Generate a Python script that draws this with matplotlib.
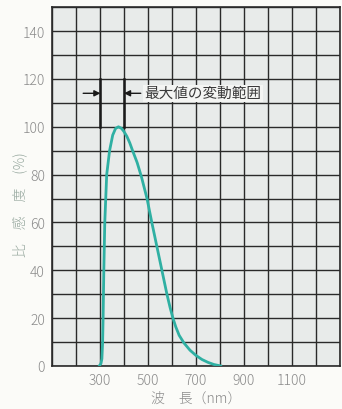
import numpy as np
import matplotlib
matplotlib.use('Agg')
import matplotlib.pyplot as plt

plt.rcParams['font.family'] = ['Noto Sans CJK JP', 'DejaVu Sans']

# 分光感度曲線
wavelength = [297, 304, 308, 311, 313, 316, 320, 328, 340, 353, 365, 377,
              390, 400, 412, 424, 436, 455, 473, 496, 516, 537, 558, 579,
              592, 604, 616, 630, 650, 675, 700, 725, 750, 775, 803]
sensitivity = [0, 1, 3, 10, 20, 40, 60, 80, 90, 96.5, 99.3, 100,
               99.3, 98, 96, 93.3, 90, 85, 79, 70, 60, 50, 40, 30,
               24.5, 20, 16.3, 12.8, 9.6, 6.6, 4.4, 2.7, 1.5, 0.6, 0]

x_ticks = [300, 500, 700, 900, 1100]
x_ticklabels = ['300', '500', '700', '900', '1100']
y_ticks = [0, 20, 40, 60, 80, 100, 120, 140]

# 最大値の変動範囲
range_lo, range_hi = 302, 400
range_y = (100, 120)
arrow_y = 114

fig = plt.figure(figsize=(3.42, 4.10), dpi=100, facecolor='#fbfbf8')
ax = fig.add_axes([0.152, 0.105, 0.842, 0.875])
ax.set_facecolor('#e8ebea')

ax.set_xlim(100, 1300)
ax.set_ylim(0, 150)
ax.set_xticks(x_ticks)
ax.set_xticklabels(x_ticklabels)
ax.set_yticks(y_ticks)
ax.set_xticks(np.arange(100, 1301, 100), minor=True)
ax.set_yticks(np.arange(0, 151, 10), minor=True)
ax.grid(which='both', color='#2a2a2a', linewidth=1.0)
ax.set_axisbelow(True)
for sp in ax.spines.values():
    sp.set_color('#2a2a2a')
    sp.set_linewidth(1.2)

ax.tick_params(which='both', length=0)
ax.tick_params(axis='both', labelsize=10, labelcolor='#8a8a8a', pad=5)
for lbl in ax.get_xticklabels() + ax.get_yticklabels():
    lbl.set_fontweight('light')

ax.plot(wavelength, sensitivity, color='#2fb0a3', linewidth=2.0, zorder=3,
        solid_joinstyle='round')

# ブラケットと矢印
for xv in (range_lo, range_hi):
    ax.plot([xv, xv], range_y, color='#1a1a1a', linewidth=1.8, zorder=4)
ax.annotate('', xy=(range_lo, arrow_y), xytext=(230, arrow_y),
            arrowprops=dict(arrowstyle='-|>', color='#1a1a1a', lw=1.0,
                            mutation_scale=9, shrinkA=0, shrinkB=0))
ax.annotate('', xy=(range_hi, arrow_y), xytext=(470, arrow_y),
            arrowprops=dict(arrowstyle='-|>', color='#1a1a1a', lw=1.0,
                            mutation_scale=9, shrinkA=0, shrinkB=0))
ax.text(485, arrow_y, '最大値の変動範囲', fontsize=10.5, color='#3a3a3a',
        va='center', ha='left', zorder=5,
        bbox=dict(facecolor='#f4f5f3', edgecolor='none', pad=1.0))

ax.set_xlabel('波　長（nm）', fontsize=10, color='#8a8a8a', labelpad=3,
              fontweight='light')
fig.text(0.058, 0.5, '比　感　度　(%)', fontsize=10, color='#97a89f',
         rotation=90, ha='center', va='center', fontweight='light')

fig.savefig('out.png', dpi=100, facecolor=fig.get_facecolor())
